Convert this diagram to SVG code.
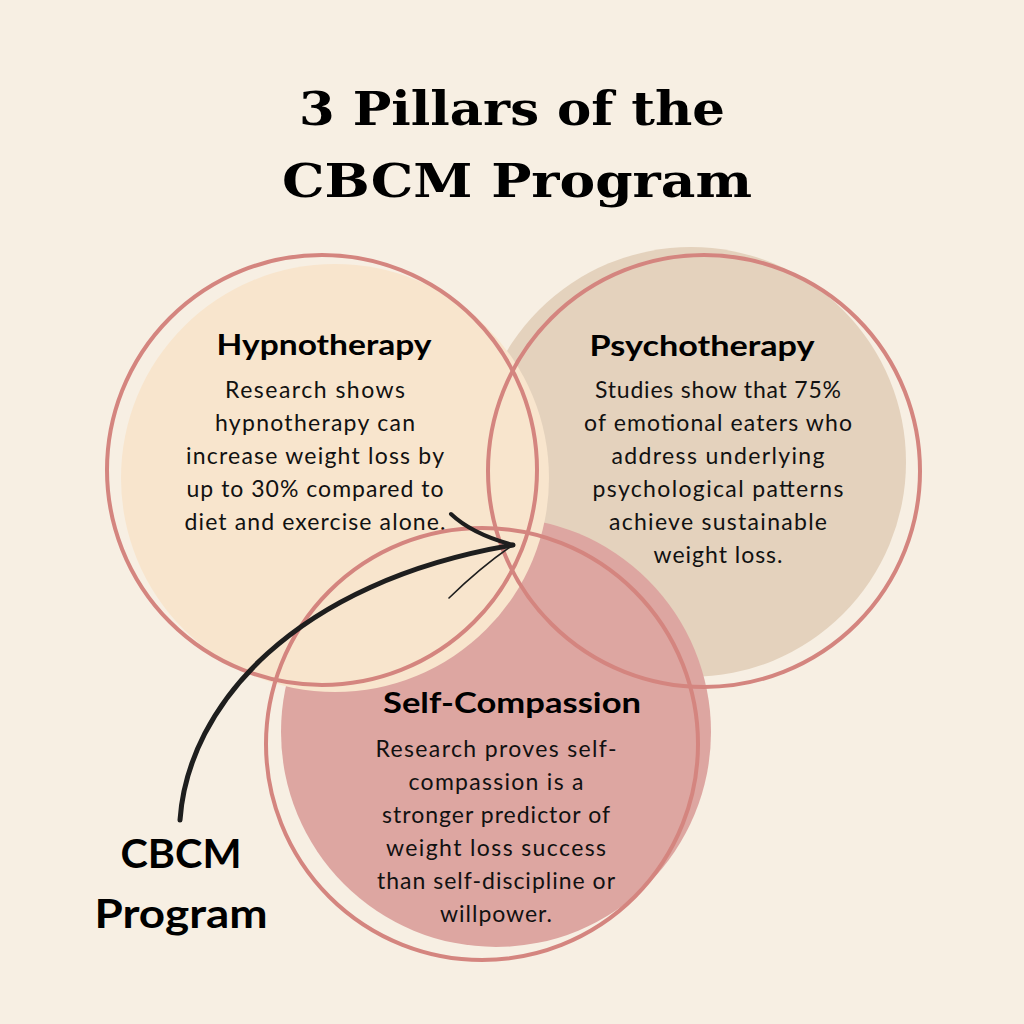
<svg xmlns="http://www.w3.org/2000/svg" width="1024" height="1024" viewBox="0 0 1024 1024">
<style>
.title{font-family:"DejaVu Serif","Liberation Serif",serif;font-weight:700;font-size:47px;fill:#000;text-anchor:middle}
.head{font-family:Lato,"Open Sans",sans-serif;font-weight:700;font-size:29px;fill:#000;text-anchor:middle}
.body{font-family:Lato,"Open Sans",sans-serif;font-weight:400;font-size:23px;fill:#111;text-anchor:middle}
.label{font-family:Lato,"Open Sans",sans-serif;font-weight:700;font-size:40px;fill:#000;text-anchor:middle}
.ring{fill:none;stroke:#D4857F;stroke-width:4}
.ink{fill:none;stroke:#1e1e1e;stroke-linecap:round;stroke-linejoin:round}
</style>
<rect width="1024" height="1024" fill="#F7EFE3"/>
<g id="title">
<text class="title" x="512" y="125" textLength="426" lengthAdjust="spacingAndGlyphs">3 Pillars of the</text>
<text class="title" x="517" y="197" textLength="470" lengthAdjust="spacingAndGlyphs">CBCM Program</text>
</g>
<g id="fills">
<circle cx="691" cy="462" r="215" fill="#E4D2BD"/>
<circle cx="496" cy="732" r="215" fill="#DDA6A1"/>
<circle cx="335" cy="478" r="214" fill="#F8E5CD"/>
</g>
<g id="hypnotherapy">
<circle class="ring" cx="322" cy="470" r="215"/>
<text class="head" x="324" y="355" textLength="215" lengthAdjust="spacingAndGlyphs">Hypnotherapy</text>
<text class="body" x="315" y="398" textLength="180">Research shows</text>
<text class="body" x="315" y="431" textLength="200">hypnotherapy can</text>
<text class="body" x="315" y="464" textLength="258">increase weight loss by</text>
<text class="body" x="315" y="497" textLength="257">up to 30% compared to</text>
<text class="body" x="315" y="530" textLength="261">diet and exercise alone.</text>
</g>
<g id="psychotherapy">
<circle class="ring" cx="704" cy="471" r="216"/>
<text class="head" x="702" y="356" textLength="225" lengthAdjust="spacingAndGlyphs">Psychotherapy</text>
<text class="body" x="718" y="398" textLength="246">Studies show that 75%</text>
<text class="body" x="718" y="431" textLength="268">of emotional eaters who</text>
<text class="body" x="718" y="464" textLength="213">address underlying</text>
<text class="body" x="718" y="497" textLength="251">psychological patterns</text>
<text class="body" x="718" y="530" textLength="218">achieve sustainable</text>
<text class="body" x="718" y="563" textLength="129">weight loss.</text>
</g>
<g id="self-compassion">
<circle class="ring" cx="482" cy="744" r="216"/>
<text class="head" x="512" y="713" textLength="258" lengthAdjust="spacingAndGlyphs">Self-Compassion</text>
<text class="body" x="496" y="757" textLength="241">Research proves self-</text>
<text class="body" x="496" y="790" textLength="175">compassion is a</text>
<text class="body" x="496" y="823" textLength="228">stronger predictor of</text>
<text class="body" x="496" y="856" textLength="220">weight loss success</text>
<text class="body" x="496" y="889" textLength="238">than self-discipline or</text>
<text class="body" x="496" y="922" textLength="112">willpower.</text>
</g>
<g id="cbcm-program">
<text class="label" x="181" y="868" textLength="121" lengthAdjust="spacingAndGlyphs">CBCM</text>
<text class="label" x="181" y="928" textLength="173" lengthAdjust="spacingAndGlyphs">Program</text>
</g>
<g id="connectors">
<path class="ink" stroke-width="5" d="M180,820 C188,705 295,582 513,545"/>
<path class="ink" stroke-width="4" d="M451,514 Q472,534 513,545"/>
<path class="ink" stroke-width="1.6" d="M513,545 Q482,566 449,598"/>
</g>
</svg>
